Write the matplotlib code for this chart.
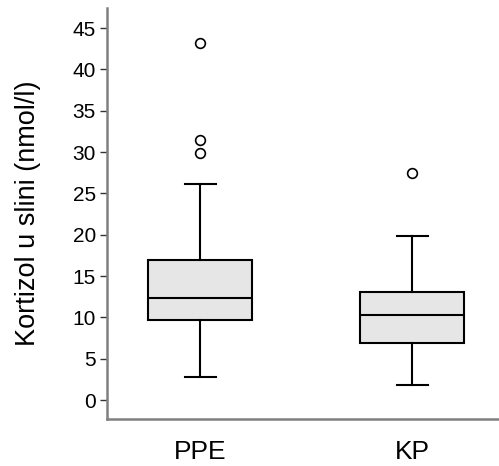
import matplotlib
matplotlib.use("Agg")
import matplotlib.pyplot as plt

categories = ["PPE", "KP"]
whislo = [2.8, 1.8]
q1 = [9.7, 6.9]
med = [12.35, 10.25]
q3 = [17.0, 13.1]
whishi = [26.2, 19.85]
fliers = [[29.9, 31.5, 43.2], [27.5]]

plt.rcParams['font.family'] = ['Liberation Sans', 'DejaVu Sans']

fig = plt.figure(figsize=(4.99, 4.66), dpi=100)
ax = fig.add_axes([0.2144, 0.1015, 0.7856, 0.8815])

stats = []
for i, c in enumerate(categories):
    stats.append(dict(label=c, whislo=whislo[i], q1=q1[i], med=med[i],
                      q3=q3[i], whishi=whishi[i], fliers=fliers[i]))

ax.bxp(stats, positions=[0, 1], widths=0.49, patch_artist=True,
       boxprops=dict(facecolor='#e6e6e6', edgecolor='black', linewidth=1.5),
       medianprops=dict(color='black', linewidth=1.5),
       whiskerprops=dict(color='black', linewidth=1.5),
       capprops=dict(color='black', linewidth=1.5),
       capwidths=0.147,
       flierprops=dict(marker='o', markerfacecolor='white', markeredgecolor='black',
                       markersize=7, markeredgewidth=1.2))

ax.set_xlim(-0.44, 1.41)
ax.set_ylim(-2.26, 47.45)
ax.set_yticks(range(0, 46, 5))
ax.set_yticklabels([str(v) for v in range(0, 46, 5)], fontsize=15)
ax.set_xticks([0, 1])
ax.set_xticklabels(categories, fontsize=19)
ax.tick_params(axis='x', length=0, pad=15)
ax.tick_params(axis='y', length=5, width=1, color='#333333', pad=3)
ax.set_ylabel("Kortizol u slini (nmol/l)", fontsize=19.5, labelpad=23)
for s in ['top', 'right']:
    ax.spines[s].set_visible(False)
for s in ['left', 'bottom']:
    ax.spines[s].set_color('#808080')
    ax.spines[s].set_linewidth(1.8)

fig.savefig("out.png", dpi=100)
